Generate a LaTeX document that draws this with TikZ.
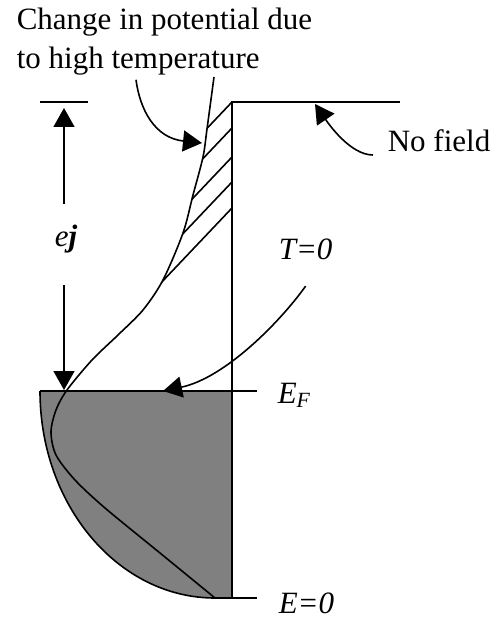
\documentclass[tikz,border=0pt]{standalone}
\usepackage{fontspec}
\setmainfont{Liberation Serif}
\usetikzlibrary{arrows.meta}
\tikzset{
  lbl/.style={inner sep=0pt, font=\fontsize{15.5}{19.5}\selectfont},
  pointer/.style={-{Triangle[length=9.5pt,width=10.5pt]}},
  sea/.style={fill=black!50},
}
\newcommand\hotcurve{(214,77) (207,129) (203,157) (193,195) (183,233)
  (163,280) (143,310) (118,335) (92,360) (67,390)}

\begin{document}
\begin{tikzpicture}[x=0.5pt, y=-0.5pt, line width=0.8pt]
  \useasboundingbox (0,0) rectangle (494,619);

  \fill[sea] (40,391) -- (232,391) -- (232,598) -- (215,598)
    .. controls (118,598) and (40,505) .. (40,391) -- cycle;
  \draw (40,391) .. controls (40,505) and (118,598) .. (215,598);
  \draw (40,391) -- (257,391);
  \draw (215,598) -- (257,598);
  \draw (400,102) -- (232,102) -- (232,598);
  \draw (40,102) -- (88,102);

  \draw plot[smooth] coordinates {\hotcurve (56,410) (51,432) (56,455) (75,480)
    (105,508) (160,553) (215,598)};
  \begin{scope}
    \clip plot[smooth] coordinates {\hotcurve} -- (260,390) -- (260,77) -- cycle;
    \foreach \y in {102,128,157,182,208}
      \draw (232,\y) -- ++(-110,116);
  \end{scope}

  \coordinate (ejtop) at (64,108);
  \coordinate (ejbot) at (64,390);
  \coordinate (hotend) at (202,143);
  \coordinate (flatend) at (315,104);
  \coordinate (zeroend) at (163,391);

  \node[lbl, anchor=north west, align=left] (change) at (16,7)
    {Change in potential due\\to high temperature};
  \node[lbl, anchor=base, text height=21pt, text depth=18.5pt] (ej) at (66,247)
    {\textit{e}\textbf{\textit{j}}};
  \node[lbl, anchor=base west] (nofield) at (387,152) {No field};
  \node[lbl, anchor=base west] (tzero) at (278,260) {\textit{T=0}};
  \node[lbl, anchor=base west] (ef) at (277,403) {\textit{E}\textsubscript{\textit{F}}};
  \node[lbl, anchor=base west] (ezero) at (278,613) {\textit{E=0}};

  \draw[pointer] (ej.north -| ejtop) -- (ejtop);
  \draw[pointer] (ej.south -| ejbot) -- (ejbot);
  \draw[pointer] ([xshift=60pt,yshift=-2pt]change.south west)
    .. controls (140,110) and (155,138) .. (hotend);
  \draw[pointer] ([xshift=-7pt,yshift=-1.5pt]nofield.base west)
    .. controls (350,155) and (328,123) .. (flatend);
  \draw[pointer] ([yshift=-12.5pt]tzero.south)
    .. controls (280,322) and (225,378) .. (zeroend);
\end{tikzpicture}
\end{document}
